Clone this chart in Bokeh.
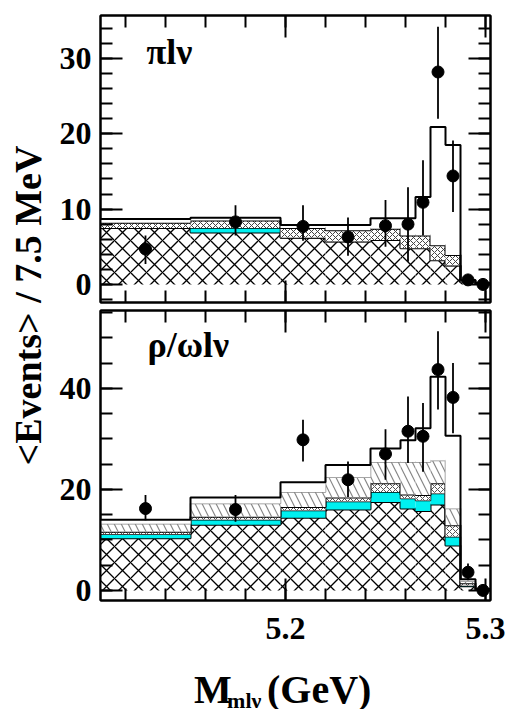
import numpy as np
from bokeh.plotting import figure
from bokeh.models import Range1d, LinearAxis, SingleIntervalTicker, Label, CustomJSTickFormatter
from bokeh.layouts import row, column
from bokeh.embed import file_html
from bokeh.resources import INLINE
from bokeh.core.properties import value

# ---------------- data ----------------
bin_edges = [5.1075, 5.1525, 5.1975, 5.22, 5.2425, 5.2575, 5.265, 5.2725,
             5.28, 5.2875, 5.295, 5.3025]

# pi l nu panel : cumulative stack levels (events / 7.5 MeV)
pi_bkg    = [7.5, 6.9, 6.2, 5.7, 5.9, 4.8, 4.8, 3.2, 2.5, 0.3, 0.1]
pi_cyan   = [7.5, 7.5, 6.2, 5.7, 5.9, 4.8, 4.8, 3.2, 2.5, 0.3, 0.1]
pi_fine   = [8.2, 8.5, 7.5, 7.2, 7.4, 6.5, 6.5, 5.2, 3.9, 0.5, 0.15]
pi_signal = [8.7, 8.85, 7.9, 7.9, 8.8, 8.8, 11.6, 20.9, 18.5, 0.6, 0.2]
pi_data   = [4.7, 8.3, 7.7, 6.3, 7.8, 8.0, 10.9, 28.2, 14.4, 0.6, 0.0]
pi_err_hi = [6.5, 10.5, 10.5, 8.9, 11.2, 12.9, 16.5, 34.2, 19.1, 1.4, 0.3]
pi_err_lo = [2.7, 6.5, 5.8, 3.8, 5.0, 3.0, 6.5, 22.0, 9.6, 0.1, 0.0]

# rho/omega l nu panel : cumulative stack levels
rho_bkg    = [10.3, 13.0, 14.4, 16.0, 17.5, 16.2, 15.7, 17.0, 8.9, 0.8, 0.2]
rho_cyan   = [11.1, 14.0, 15.8, 17.6, 19.5, 18.2, 17.8, 19.2, 10.6, 0.9, 0.2]
rho_fine   = [11.6, 14.6, 16.5, 18.4, 21.2, 19.0, 18.9, 21.2, 12.9, 1.4, 0.25]
rho_diag   = [13.2, 17.2, 19.5, 22.4, 25.4, 25.4, 25.4, 25.7, 16.2, 1.8, 0.3]
rho_signal = [14.0, 18.4, 21.4, 24.8, 28.1, 29.7, 32.1, 42.3, 30.6, 2.2, 0.3]
rho_data   = [16.2, 16.0, 29.8, 21.9, 27.0, 31.5, 30.5, 43.7, 38.2, 3.6, 0.0]
rho_err_hi = [18.9, 18.9, 33.8, 25.5, 31.9, 38.4, 37.1, 51.3, 45.0, 5.3, 0.4]
rho_err_lo = [13.9, 13.6, 25.5, 18.5, 21.9, 25.2, 23.5, 35.8, 31.1, 2.0, 0.0]

x_ticks_interval = 0.1
y_label_text = "<Events> / 7.5 MeV"

# ---------------- helpers ----------------
lefts = bin_edges[:-1]
rights = bin_edges[1:]
centers = [(a + b) / 2 for a, b in zip(lefts, rights)]
FONT = "Liberation Serif"
CYAN = "#00f0f0"
xr = Range1d(bin_edges[0], bin_edges[-1])


def style_axis(ax, labels, size="32px", standoff=8):
    ax.axis_line_color = "black"
    ax.axis_line_width = 2
    ax.major_tick_in = 22
    ax.major_tick_out = 0
    ax.minor_tick_in = 12
    ax.minor_tick_out = 0
    ax.major_tick_line_width = 2
    ax.minor_tick_line_width = 2
    ax.major_tick_line_color = "black"
    ax.minor_tick_line_color = "black"
    if labels:
        ax.major_label_text_font = FONT
        ax.major_label_text_font_style = "bold"
        ax.major_label_text_font_size = size
        ax.major_label_text_color = "black"
        ax.major_label_standoff = standoff
    else:
        ax.formatter = CustomJSTickFormatter(code="return '';")
        ax.major_label_standoff = 0


def panel(height, y0, y1, interval, nminor, mbt, mbb, xlabels):
    p = figure(width=459, height=height, x_range=xr, y_range=Range1d(y0, y1),
               output_backend="svg", toolbar_location=None,
               x_axis_location=None, y_axis_location=None,
               min_border_left=50, min_border_right=19,
               min_border_top=mbt, min_border_bottom=mbb,
               outline_line_color="black", outline_line_width=2,
               background_fill_color="white", border_fill_color="white")
    p.xgrid.visible = False
    p.ygrid.visible = False
    for loc in ["left", "right"]:
        ax = LinearAxis(ticker=SingleIntervalTicker(interval=interval, num_minor_ticks=nminor))
        style_axis(ax, loc == "left", standoff=9)
        p.add_layout(ax, loc)
    for loc in ["above", "below"]:
        ax = LinearAxis(ticker=SingleIntervalTicker(interval=x_ticks_interval, num_minor_ticks=5))
        style_axis(ax, loc == "below" and xlabels, standoff=17)
        p.add_layout(ax, loc)
    return p


def layer(p, bottom, top, edge="black", lw=2, **kw):
    args = dict(fill_color="white", line_color=None)
    args.update(kw)
    p.quad(left=lefts, right=rights, bottom=bottom, top=top, **args)
    p.step(x=bin_edges, y=list(top) + [top[-1]], mode="after", line_color=edge, line_width=lw)


zeros = [0.0] * len(lefts)

# ---------------- top panel ----------------
top = panel(306, -2.4, 35.7, 10, 5, 15, 4, False)
layer(top, zeros, pi_bkg, hatch_pattern="x", hatch_scale=16, hatch_color="black", hatch_weight=1.3)
layer(top, pi_bkg, pi_cyan, fill_color=CYAN, lw=1.5)
layer(top, pi_cyan, pi_fine, hatch_pattern="x", hatch_scale=6, hatch_color="#444444", hatch_weight=1)
layer(top, pi_fine, pi_signal)
top.segment(x0=centers, y0=pi_err_lo, x1=centers, y1=pi_err_hi, line_color="black", line_width=1.8)
top.scatter(x=centers, y=pi_data, size=12, color="black")
top.add_layout(Label(x=5.1305, y=28.2, text="πlν", text_font=FONT, text_font_style="bold",
                     text_font_size="36px", text_color="black"))

# ---------------- bottom panel ----------------
bot = panel(340, -2.0, 55.4, 20, 4, 4, 46, True)
layer(bot, zeros, rho_bkg, hatch_pattern="x", hatch_scale=16, hatch_color="black", hatch_weight=1.3)
layer(bot, rho_bkg, rho_cyan, fill_color=CYAN, lw=1.5)
layer(bot, rho_cyan, rho_fine, hatch_pattern="x", hatch_scale=6, hatch_color="#555555", hatch_weight=1)
layer(bot, rho_fine, rho_diag, edge="#888888", lw=1.5, hatch_pattern="\\", hatch_scale=14,
      hatch_color="#888888", hatch_weight=1.2)
layer(bot, rho_diag, rho_signal)
bot.segment(x0=centers, y0=rho_err_lo, x1=centers, y1=rho_err_hi, line_color="black", line_width=1.8)
bot.scatter(x=centers, y=rho_data, size=12, color="black")
bot.add_layout(Label(x=5.131, y=44.6, text="ρ/ωlν", text_font=FONT, text_font_style="bold",
                     text_font_size="36px", text_color="black"))

# ---------------- y label ----------------
ylab = figure(width=50, height=709, x_range=Range1d(0, 50), y_range=Range1d(0, 709),
              output_backend="svg", toolbar_location=None,
              x_axis_location=None, y_axis_location=None, min_border=0,
              outline_line_color=None, background_fill_color="white", border_fill_color="white")
ylab.xgrid.visible = False
ylab.ygrid.visible = False
ylab.text(x=[27], y=[709 - 305], text=[y_label_text], angle=np.pi / 2,
          text_font=value(FONT), text_font_style="bold", text_font_size="38px",
          text_align="center", text_baseline="middle", text_color="black")

# ---------------- x label ----------------
xlab = figure(width=459, height=63, x_range=Range1d(0, 459), y_range=Range1d(0, 63),
              output_backend="svg", toolbar_location=None,
              x_axis_location=None, y_axis_location=None, min_border=0,
              outline_line_color=None, background_fill_color="white", border_fill_color="white")
xlab.xgrid.visible = False
xlab.ygrid.visible = False
for tx, ty, tt, fs in [(110, 20, "M", "40px"), (149, 9, "mlν", "22px"), (196, 20, "(GeV)", "40px")]:
    xlab.add_layout(Label(x=tx, y=ty, text=tt, text_font=FONT, text_font_style="bold",
                          text_font_size=fs, text_align="left", text_baseline="alphabetic",
                          text_color="black"))

layout = row(ylab, column(top, bot, xlab))
open("out.html", "w").write(file_html(layout, INLINE))
